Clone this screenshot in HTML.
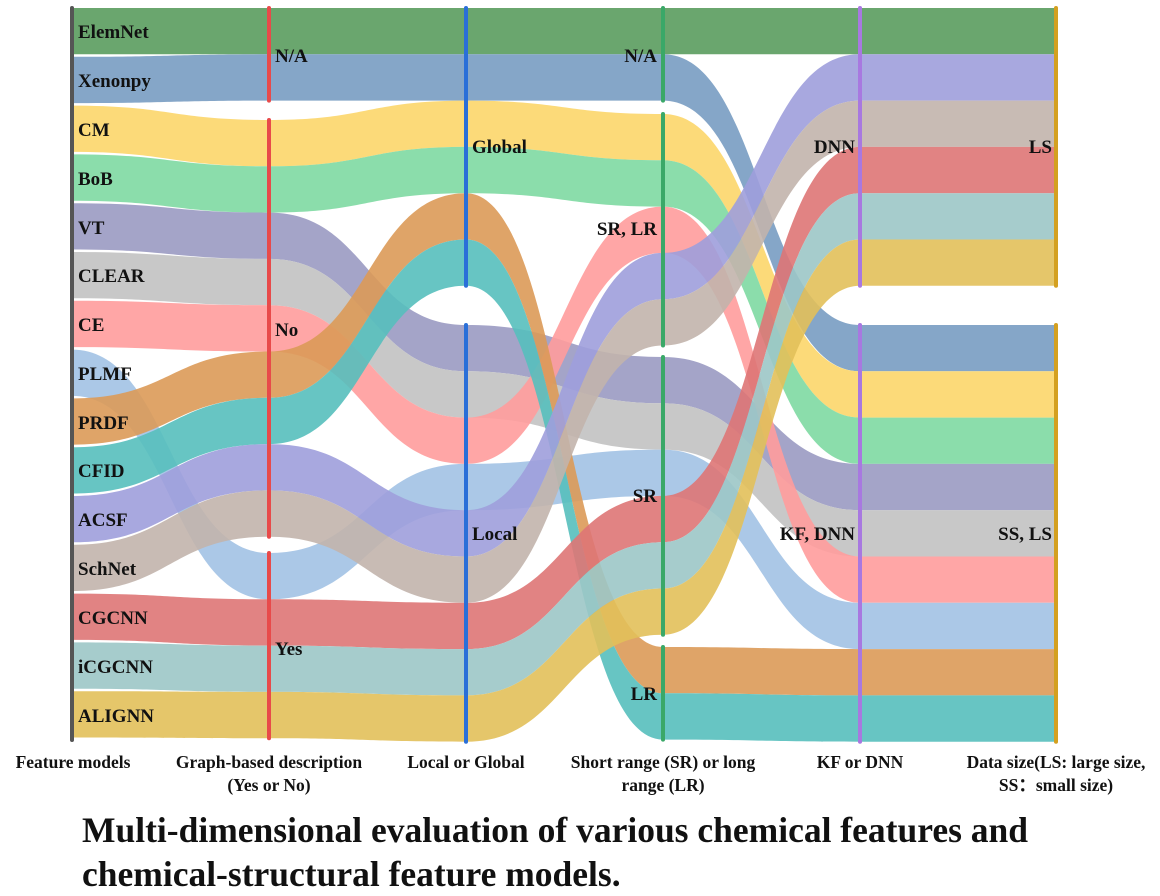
<!DOCTYPE html>
<html><head><meta charset="utf-8">
<style>
html,body{margin:0;padding:0;background:#fff;width:1160px;height:896px;overflow:hidden}
svg text{font-family:"Liberation Serif",serif;font-weight:bold;fill:#111}
</style></head>
<body>
<svg id="s" width="1160" height="896" xmlns="http://www.w3.org/2000/svg">
<g id="links"></g>
<g id="lines"></g>
<g id="labels" font-size="19">
<text x="78" y="38">ElemNet</text>
<text x="78" y="87">Xenonpy</text>
<text x="78" y="136">CM</text>
<text x="78" y="185">BoB</text>
<text x="78" y="234">VT</text>
<text x="78" y="282">CLEAR</text>
<text x="78" y="331">CE</text>
<text x="78" y="380">PLMF</text>
<text x="78" y="429">PRDF</text>
<text x="78" y="477">CFID</text>
<text x="78" y="526">ACSF</text>
<text x="78" y="575">SchNet</text>
<text x="78" y="624">CGCNN</text>
<text x="78" y="673">iCGCNN</text>
<text x="78" y="722">ALIGNN</text>
<text x="275" y="62">N/A</text>
<text x="275" y="336">No</text>
<text x="275" y="655">Yes</text>
<text x="472" y="153">Global</text>
<text x="472" y="540">Local</text>
<text x="657" y="62" text-anchor="end">N/A</text>
<text x="657" y="235" text-anchor="end">SR, LR</text>
<text x="657" y="502" text-anchor="end">SR</text>
<text x="657" y="700" text-anchor="end">LR</text>
<text x="855" y="153" text-anchor="end">DNN</text>
<text x="855" y="540" text-anchor="end">KF, DNN</text>
<text x="1052" y="153" text-anchor="end">LS</text>
<text x="1052" y="540" text-anchor="end">SS, LS</text>
</g>
<g font-size="17.5" text-anchor="middle">
<text x="73" y="768">Feature models</text>
<text x="269" y="768">Graph-based description</text>
<text x="269" y="791">(Yes or No)</text>
<text x="466" y="768">Local or Global</text>
<text x="663" y="768">Short range (SR) or long</text>
<text x="663" y="791">range (LR)</text>
<text x="860" y="768">KF or DNN</text>
<text x="1056" y="768">Data size(LS: large size,</text>
<text x="1056" y="791">SS：small size)</text>
</g>
<g font-size="35.5">
<text x="82" y="842">Multi-dimensional evaluation of various chemical features and</text>
<text x="82" y="886">chemical-structural feature models.</text>
</g>
</svg>
<script>
var colors=["#5a9c5e","#789cc2","#fcd66a","#7ed9a2","#9a9ac2","#c2c2c2","#ff9c9c","#a2c2e4","#dc9a58","#56bfbd","#9e9edc","#c2b4ac","#de7676","#9cc6c6","#e2c05a"];
var xs=[72,269,466,663,860,1056];
var H=46.3;
var cols=[
 null,
 [[8,[0,1]],[120,[2,3,4,5,6,8,9,10,11]],[553,[7,12,13,14]]],
 [[8,[0,1,2,3,8,9]],[325,[4,5,6,7,10,11,12,13,14]]],
 [[8,[0,1]],[114,[2,3,6,10,11]],[357,[4,5,7,12,13,14]],[647,[8,9]]],
 [[8,[0,10,11,12,13,14]],[325,[1,2,3,4,5,6,7,8,9]]],
 [[8,[0,10,11,12,13,14]],[325,[1,2,3,4,5,6,7,8,9]]]
];
var lineCol=["#555555","#e84a4a","#2a6fd8","#3aa868","#a878e0","#d4a020"];
var pos=[];var segs=[];
var c0={};for(var i=0;i<15;i++){c0[i]=8+i*48.8;}
pos.push(c0);segs.push([[8,740]]);
for(var c=1;c<6;c++){var p={},sg=[];cols[c].forEach(function(n){var y=n[0];n[1].forEach(function(it,k){p[it]=y+k*H;});sg.push([y,y+n[1].length*H]);});pos.push(p);segs.push(sg);}
var ns="http://www.w3.org/2000/svg";
var L=document.getElementById("links");
for(var c=0;c<5;c++){for(var i=0;i<15;i++){
 var x0=xs[c],x1=xs[c+1],xm=(x0+x1)/2,a=pos[c][i],b=pos[c+1][i];
 var d="M"+x0+","+a+" C"+xm+","+a+" "+xm+","+b+" "+x1+","+b+" L"+x1+","+(b+H)+" C"+xm+","+(b+H)+" "+xm+","+(a+H)+" "+x0+","+(a+H)+" Z";
 var e=document.createElementNS(ns,"path");e.setAttribute("d",d);e.setAttribute("fill",colors[i]);e.setAttribute("fill-opacity","0.9");L.appendChild(e);
}}
var G=document.getElementById("lines");
for(var c=0;c<6;c++){segs[c].forEach(function(s){var e=document.createElementNS(ns,"line");e.setAttribute("x1",xs[c]);e.setAttribute("x2",xs[c]);e.setAttribute("y1",s[0]);e.setAttribute("y2",s[1]);e.setAttribute("stroke",lineCol[c]);e.setAttribute("stroke-width","4");e.setAttribute("stroke-linecap","round");G.appendChild(e);});}
</script>
</body></html>
